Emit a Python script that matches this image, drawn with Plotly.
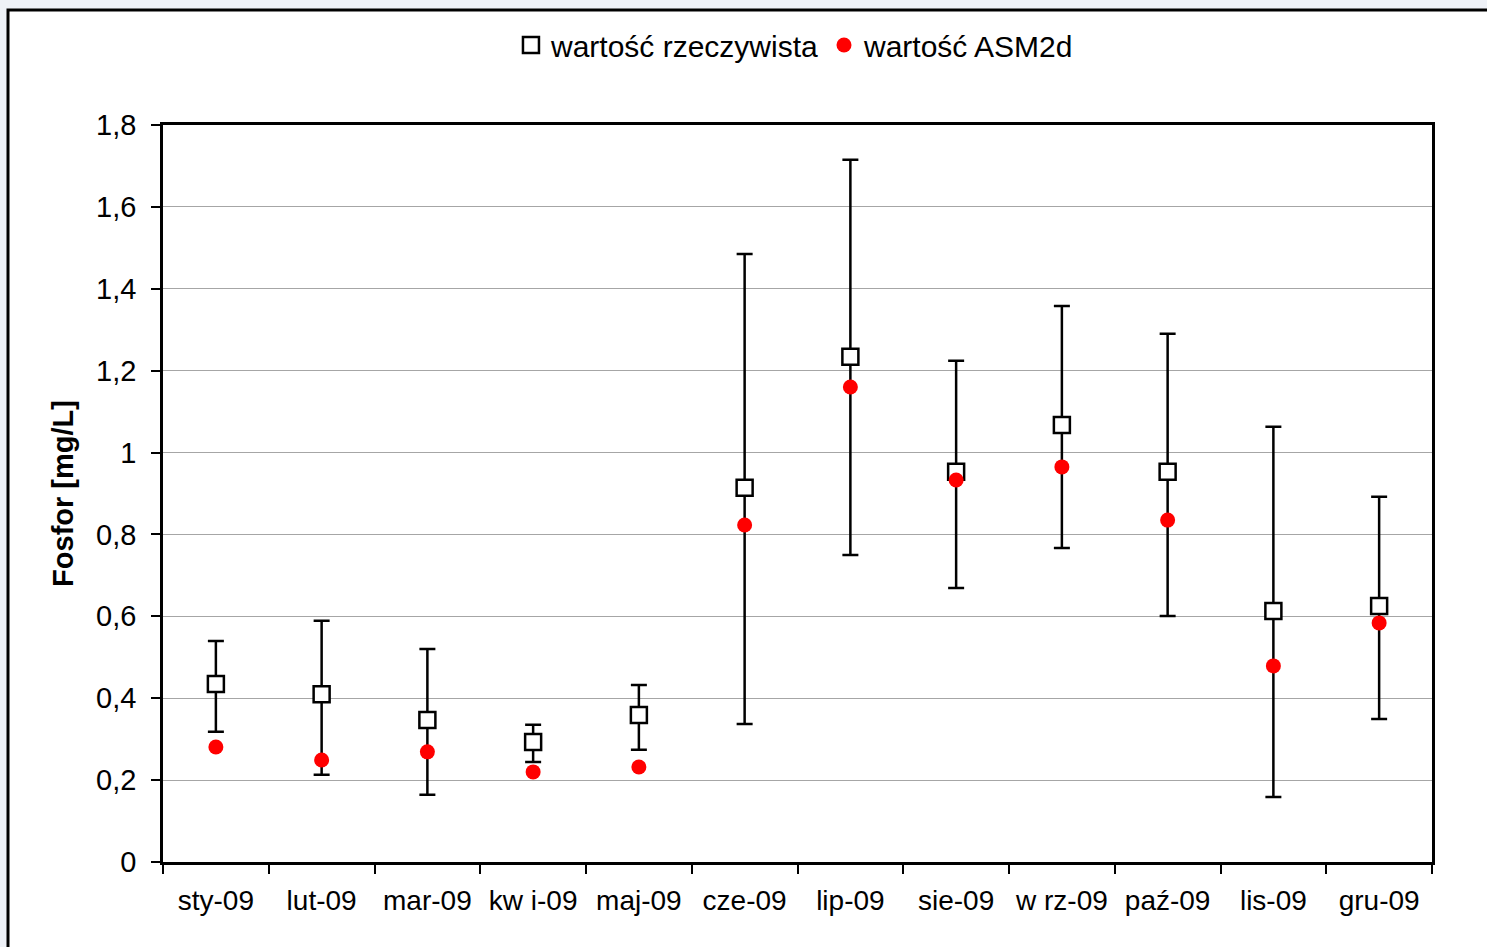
import plotly.graph_objects as go

months = ["sty-09", "lut-09", "mar-09", "kw i-09", "maj-09", "cze-09",
          "lip-09", "sie-09", "w rz-09", "paź-09", "lis-09", "gru-09"]
actual = [0.435, 0.410, 0.347, 0.293, 0.359, 0.914, 1.234, 0.953, 1.067, 0.953, 0.613, 0.625]
upper = [0.540, 0.589, 0.520, 0.335, 0.432, 1.485, 1.715, 1.224, 1.358, 1.290, 1.063, 0.892]
lower = [0.318, 0.213, 0.164, 0.244, 0.274, 0.337, 0.750, 0.669, 0.767, 0.601, 0.159, 0.349]
asm2d = [0.281, 0.249, 0.269, 0.220, 0.232, 0.823, 1.160, 0.933, 0.965, 0.835, 0.479, 0.584]
y_ticks = [0, 0.2, 0.4, 0.6, 0.8, 1, 1.2, 1.4, 1.6, 1.8]
y_labels = ["0", "0,2", "0,4", "0,6", "0,8", "1", "1,2", "1,4", "1,6", "1,8"]

err_plus = [u - a for u, a in zip(upper, actual)]
err_minus = [a - l for a, l in zip(actual, lower)]

W, H = 1487, 947
L, R, T, B = 163, 1432, 125, 862
pw, ph = R - L, B - T

def px(x):
    return (x - L) / pw

def py(y):
    return (B - y) / ph

FONT = "Liberation Sans, Arial, sans-serif"

fig = go.Figure()
fig.add_trace(go.Scatter(
    x=months, y=actual, mode="markers", name="wartość rzeczywista",
    marker=dict(symbol="square", size=16, color="white",
                line=dict(color="black", width=2.5)),
    error_y=dict(type="data", symmetric=False, array=err_plus, arrayminus=err_minus,
                 color="black", thickness=2.5, width=8),
))
fig.add_trace(go.Scatter(
    x=months, y=asm2d, mode="markers", name="wartość ASM2d",
    marker=dict(symbol="circle", size=15, color="#ff0000"),
))

fig.add_shape(type="rect", xref="paper", yref="paper",
              x0=px(8), y0=py(1000), x1=px(1540), y1=py(10),
              fillcolor="white", line=dict(color="black", width=3), layer="below")

fig.update_layout(
    width=W, height=H,
    margin=dict(l=L, r=W - R, t=T, b=H - B, autoexpand=False),
    paper_bgcolor="#eef1f7",
    plot_bgcolor="white",
    font=dict(family=FONT, size=29, color="black"),
    showlegend=True,
    legend=dict(orientation="h", x=0.498, y=py(45), xanchor="center", yanchor="middle",
                bgcolor="rgba(0,0,0,0)", font=dict(size=30)),
    xaxis=dict(type="category", tickson="boundaries", ticks="outside", ticklen=9,
               tickwidth=2, tickcolor="black", showline=True, linecolor="black",
               linewidth=2.5, mirror=True, showgrid=False, range=[-0.5, 11.5],
               tickfont=dict(size=28), tickangle=0, ticklabelstandoff=12),
    yaxis=dict(range=[0, 1.8], tickvals=y_ticks, ticktext=y_labels,
               ticks="outside", ticklen=9, tickwidth=2, tickcolor="black",
               showline=True, linecolor="black", linewidth=2.5, mirror=True,
               showgrid=True, gridcolor="#a6a6a6", gridwidth=1, zeroline=False,
               tickfont=dict(size=29), ticklabelstandoff=9,
               title=dict(text="<b>Fosfor [mg/L]</b>", font=dict(size=29), standoff=14)),
)

fig.write_html("out.html")
